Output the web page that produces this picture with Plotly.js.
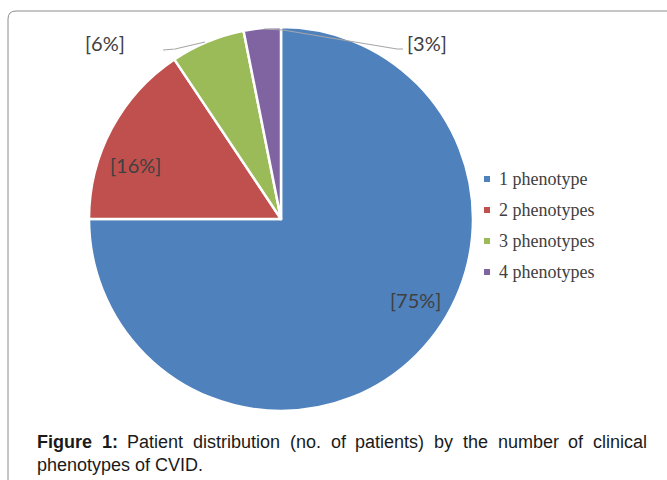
<!DOCTYPE html>
<html>
<head>
<meta charset="utf-8">
<script src="https://cdn.plot.ly/plotly-3.0.1.min.js"></script>
<style>html,body{margin:0;padding:0;background:#fff;}#chart{width:667px;height:480px;}</style>
</head>
<body>
<div id="chart"></div>
<script>
const categories = ["1 phenotype", "2 phenotypes", "3 phenotypes", "4 phenotypes"];
const patients = [24, 5, 2, 1];
const pctLabels = ["[75%]", "[16%]", "[6%]", "[3%]"];
const colors = ["#4F81BD", "#C0504D", "#9BBB59", "#8064A2"];
const captionLine1 = ["<b>Figure</b>", "<b>1:</b>", "Patient", "distribution", "(no.", "of", "patients)", "by", "the", "number", "of", "clinical"];
const captionLine2 = "phenotypes of CVID.";

const W = 667, H = 480;
const px = x => x / W;
const py = y => 1 - y / H;

const labelPos = [[415, 300], [135, 165], [105, 43], [427, 43]];
const annotations = pctLabels.map((t, i) => ({
  text: t, x: px(labelPos[i][0]), y: py(labelPos[i][1]), xref: 'paper', yref: 'paper',
  xanchor: 'center', yanchor: 'middle',
  showarrow: false, font: {family: 'Lato, "Open Sans", sans-serif', size: 20, color: '#404040'}
}));

const legendY = [179, 210, 241, 272];
const shapes = [];
categories.forEach((c, i) => {
  annotations.push({
    text: c, x: px(497), y: py(legendY[i]), xref: 'paper', yref: 'paper', xanchor: 'left', yanchor: 'middle',
    showarrow: false, font: {family: '"Liberation Serif", "DejaVu Serif", serif', size: 18, color: '#404040'}
  });
  shapes.push({type: 'rect', xref: 'paper', yref: 'paper',
    x0: px(484), x1: px(490), y0: py(legendY[i] + 3), y1: py(legendY[i] - 3),
    fillcolor: colors[i], line: {width: 0}});
});

// leader lines
shapes.push({type: 'path', xref: 'paper', yref: 'paper',
  path: `M ${px(163)} ${py(50)} L ${px(175)} ${py(49)} L ${px(205)} ${py(42)}`,
  line: {color: '#A6A6A6', width: 1.2}});
shapes.push({type: 'path', xref: 'paper', yref: 'paper',
  path: `M ${px(264)} ${py(29)} L ${px(283)} ${py(30)} L ${px(397)} ${py(49)} L ${px(403)} ${py(49)}`,
  line: {color: '#A6A6A6', width: 1.2}});

// frame (rounded corner)
const fr = 8;
shapes.push({type: 'path', xref: 'paper', yref: 'paper',
  path: `M ${px(8)} ${py(500)} L ${px(8)} ${py(11 + fr)} Q ${px(8)} ${py(11)} ${px(8 + fr)} ${py(11)} L ${px(700)} ${py(11)}`,
  line: {color: '#8C8C8C', width: 1}});

// caption: justified first line
const capSize = 18;
const capFont = {family: '"Liberation Sans", Arial, sans-serif', size: capSize, color: '#1a1a1a'};
const cv = document.createElement('canvas').getContext('2d');
const wordWidth = w => {
  const bold = w.startsWith('<b>');
  const plain = w.replace(/<\/?b>/g, '');
  cv.font = (bold ? 'bold ' : '') + capSize + 'px "Liberation Sans", Arial, sans-serif';
  return cv.measureText(plain).width;
};
const left = 35, right = 645;
const widths = captionLine1.map(wordWidth);
const total = widths.reduce((a, b) => a + b, 0);
const gap = (right - left - total) / (captionLine1.length - 1);
let cx = left;
captionLine1.forEach((w, i) => {
  annotations.push({text: w, x: px(cx), y: py(442), xref: 'paper', yref: 'paper',
    xanchor: 'left', yanchor: 'middle', showarrow: false, font: capFont});
  cx += widths[i] + gap;
});
annotations.push({text: captionLine2, x: px(left), y: py(465), xref: 'paper', yref: 'paper',
  xanchor: 'left', yanchor: 'middle', showarrow: false, font: capFont});

const trace = {
  type: 'pie', labels: categories, values: patients, sort: false, direction: 'clockwise', rotation: 0,
  marker: {colors: colors, line: {color: '#ffffff', width: 2.5}},
  textinfo: 'none', hoverinfo: 'label+value+percent',
  domain: {x: [px(89), px(473)], y: [py(411), py(27)]}
};

Plotly.newPlot('chart', [trace], {
  width: W, height: H, margin: {l: 0, r: 0, t: 0, b: 0},
  paper_bgcolor: '#ffffff', showlegend: false,
  annotations: annotations, shapes: shapes
}, {displayModeBar: false, staticPlot: true});
</script>
</body>
</html>
